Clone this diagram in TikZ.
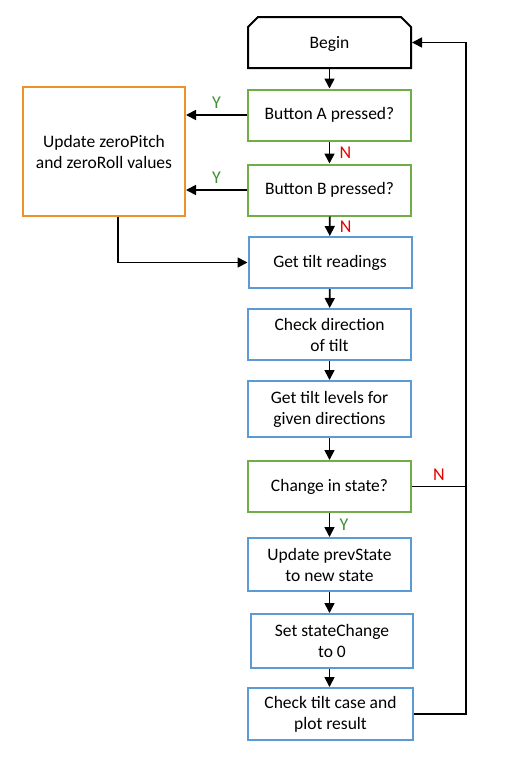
\documentclass[tikz,border=0pt]{standalone}
\usepackage{fontspec}
\setmainfont{Carlito}
\usetikzlibrary{arrows.meta,shapes.misc}
\definecolor{boxgreen}{RGB}{112,173,71}
\definecolor{boxblue}{RGB}{91,155,213}
\definecolor{boxorange}{RGB}{237,145,40}
\definecolor{yesgreen}{RGB}{60,145,50}
\definecolor{nored}{RGB}{230,0,0}

\begin{document}
\begin{tikzpicture}[x=1pt,y=-1pt,
	box/.style={draw,line width=2pt,fill=white,align=center,inner sep=0pt,minimum width=163pt,minimum height=51pt,font=\fontsize{17.5}{21}\selectfont},
	test/.style={box,draw=boxgreen},
	work/.style={box,draw=boxblue},
	flow/.style={line width=1.7pt,-{Triangle[length=10pt,width=10pt]}},
	yes/.style={text=yesgreen,font=\fontsize{18}{18}\selectfont},
	no/.style={text=nored,font=\fontsize{18}{18}\selectfont}]
	\useasboundingbox (0,0) rectangle (506,763);
	\node[box,draw=black,chamfered rectangle,chamfered rectangle corners={north west,north east},chamfered rectangle sep=5pt,text depth=-4pt] (begin) at (329.5,42.5) {Begin};
	\node[test] (btnA) at (329.5,115) {Button A pressed?};
	\node[test] (btnB) at (329.5,190) {Button B pressed?};
	\node[work] (readings) at (330,262.5) {Get tilt readings};
	\node[work] (direction) at (329.5,334.5) {Check direction\\of tilt};
	\node[work,minimum height=56pt] (levels) at (329.5,409) {Get tilt levels for\\given directions};
	\node[test] (change) at (329.5,486.5) {Change in state?};
	\node[work,minimum height=53pt] (prev) at (329.5,564.5) {Update prevState\\to new state};
	\node[work,minimum width=162pt,minimum height=54pt] (setsc) at (332,641) {Set stateChange\\to 0};
	\node[work,minimum width=165pt,minimum height=52pt] (plot) at (330.5,714) {Check tilt case and\\plot result};
	\node[box,draw=boxorange,minimum width=162pt,minimum height=129pt] (update) at (104,151.5) {Update zeroPitch\\and zeroRoll values};
	\coordinate (loopx) at (466,0);
	\draw[flow] (begin) -- (btnA);
	\draw[flow] (btnA) -- (btnB) node[no,midway,right=6pt] {N};
	\draw[flow] (btnB) -- (readings) node[no,midway,right=6pt] {N};
	\draw[flow] (readings) -- (direction);
	\draw[flow] (direction) -- (levels);
	\draw[flow] (levels) -- (change);
	\draw[flow] (change) -- (prev) node[yes,midway,right=6pt] {Y};
	\draw[flow] (prev) -- (setsc.north -| prev.south);
	\draw[flow] (setsc.south -| prev.south) -- (plot.north -| prev.south);
	\draw[flow] (btnA.west) -- (btnA.west -| update.east) node[yes,midway,above=2pt] {Y};
	\draw[flow] (btnB.west) -- (btnB.west -| update.east) node[yes,midway,above=2pt] {Y};
	\draw[flow] ([xshift=14pt]update.south) |- (readings.west);
	\draw[flow] (plot.east) -| (loopx |- begin.east) -- (begin.east);
	\draw[line width=1.7pt] (change.east) -- (change.east -| loopx) node[no,midway,above=2pt] {N};
\end{tikzpicture}
\end{document}
